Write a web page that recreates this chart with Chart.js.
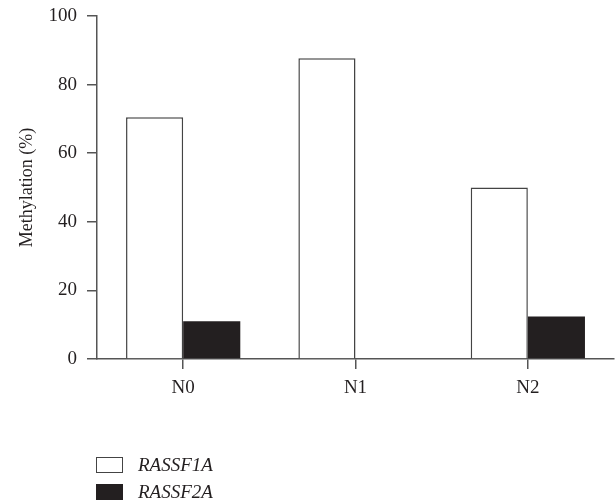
<!DOCTYPE html>
<html>
<head>
<meta charset="utf-8">
<script src="https://cdn.jsdelivr.net/npm/chart.js@4"></script>
<style>
  body { margin: 0; background: #fff; }
  #wrap { position: relative; width: 616px; height: 500px; }
  #legend { position: absolute; left: 96px; top: 451px; font-family: "Liberation Serif", serif; font-style: italic; font-size: 19px; color: #231f20; }
  .item { display: flex; align-items: center; height: 27px; }
  .sw { width: 25px; height: 14px; border: 1.5px solid #444; margin-right: 15px; box-sizing: content-box; }
</style>
</head>
<body>
<div id="wrap">
  <canvas id="c" width="616" height="500"></canvas>
  <div id="legend"></div>
</div>
<script>
const categories = ['N0', 'N1', 'N2'];
const rassf1a = [70.5, 87.7, 50.0];
const rassf2a = [11.0, 0, 12.4];
const seriesNames = ['RASSF1A', 'RASSF2A'];
const yTicks = [0, 20, 40, 60, 80, 100];

const ink = '#231f20';
const axisColor = '#555';
const font = { family: '"Liberation Serif", serif', size: 19 };

const ctx = document.getElementById('c');
const chart = new Chart(ctx, {
  type: 'bar',
  data: {
    labels: categories,
    datasets: [
      { label: seriesNames[0], data: rassf1a, backgroundColor: '#fff', borderColor: '#444', borderWidth: 1.5 },
      { label: seriesNames[1], data: rassf2a, backgroundColor: ink, borderColor: ink, borderWidth: 0 }
    ]
  },
  options: {
    responsive: false,
    animation: false,
    layout: { padding: { left: 12, top: 16, right: 2, bottom: 91 } },
    datasets: { bar: { categoryPercentage: 0.663, barPercentage: 1 } },
    plugins: { legend: { display: false }, tooltip: { enabled: false } },
    scales: {
      x: {
        afterFit: s => { s.height = 50; },
        grid: { offset: false, drawOnChartArea: false, drawTicks: true, tickLength: 10, color: axisColor, lineWidth: 1.5 },
        border: { display: true, color: axisColor, width: 1.5 },
        ticks: { color: ink, font: font, padding: 8 }
      },
      y: {
        min: 0, max: 100,
        afterFit: s => { s.width = 85; s.paddingTop = 0; s.paddingBottom = 0; },
        afterBuildTicks: s => { s.ticks = yTicks.map(v => ({ value: v })); },
        grid: { drawOnChartArea: false, drawTicks: true, tickLength: 10, color: axisColor, lineWidth: 1.5 },
        border: { display: true, color: axisColor, width: 1.5 },
        ticks: { color: ink, font: font, padding: 10 },
        title: { display: true, text: 'Methylation (%)', color: ink, font: { family: font.family, size: 18 } }
      }
    }
  }
});

const legend = document.getElementById('legend');
chart.data.datasets.forEach(ds => {
  const row = document.createElement('div');
  row.className = 'item';
  const sw = document.createElement('span');
  sw.className = 'sw';
  sw.style.background = ds.backgroundColor;
  sw.style.borderColor = ds.borderWidth ? ds.borderColor : ds.backgroundColor;
  const txt = document.createElement('span');
  txt.textContent = ds.label;
  row.appendChild(sw);
  row.appendChild(txt);
  legend.appendChild(row);
});
</script>
</body>
</html>
